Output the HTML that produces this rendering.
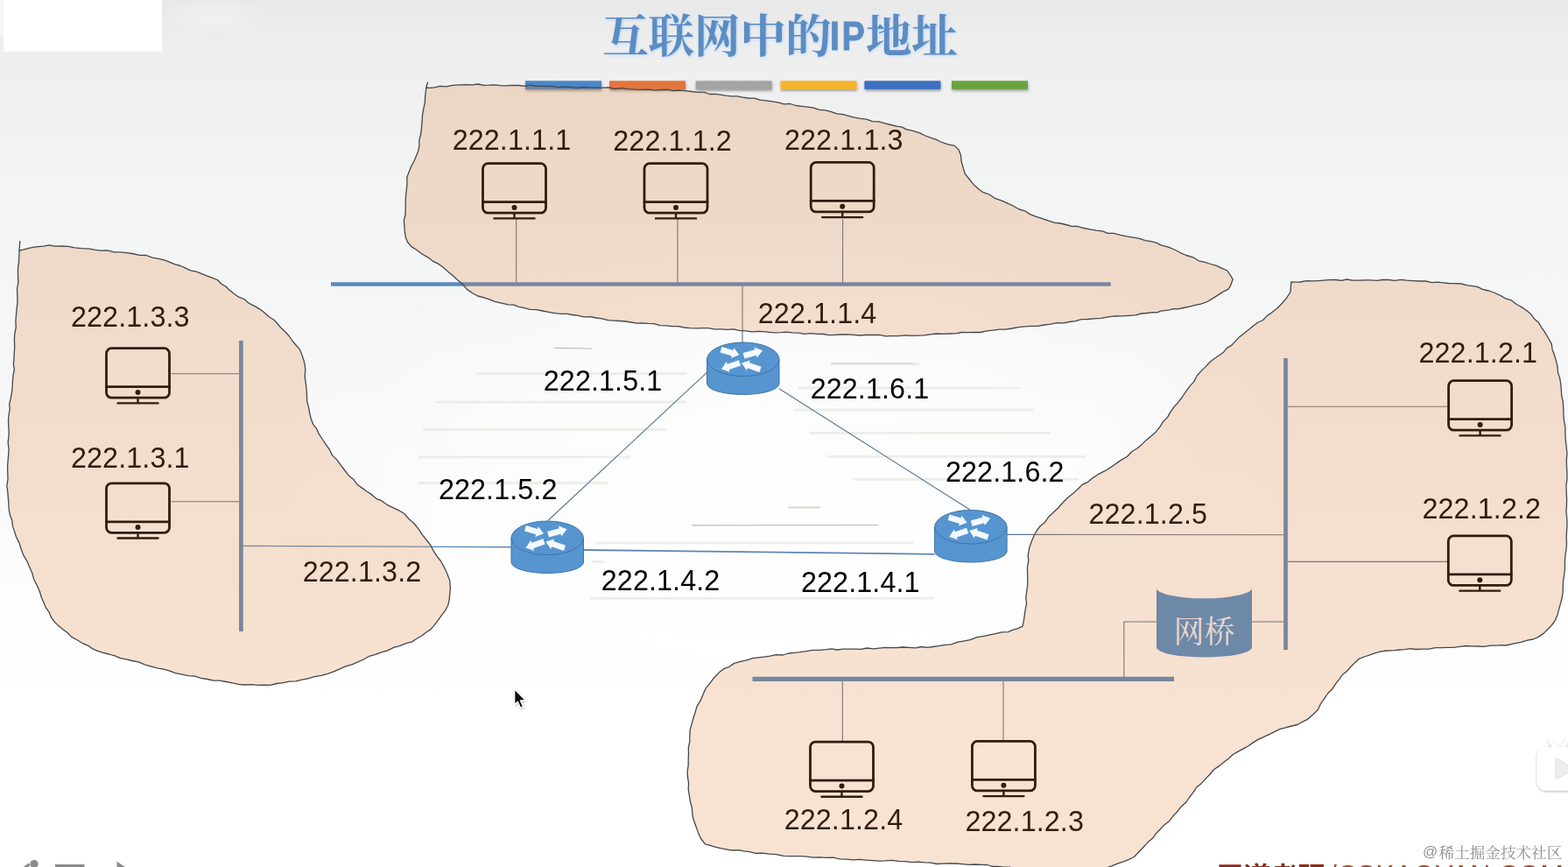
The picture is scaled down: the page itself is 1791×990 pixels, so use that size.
<!DOCTYPE html>
<html lang="zh">
<head>
<meta charset="utf-8">
<title>互联网中的IP地址</title>
<style>
html,body{margin:0;padding:0;width:1791px;height:990px;overflow:hidden;}
#page{position:absolute;left:0;top:0;width:1791px;height:990px;overflow:hidden;}
body{width:1791px;height:990px;overflow:hidden;position:relative;font-family:"Liberation Sans",sans-serif;background:#fff;}
#bg{position:absolute;left:0;top:0;width:1791px;height:990px;
 background:
  radial-gradient(ellipse 620px 330px at 50% 58%, rgba(255,255,255,0.85) 0%, rgba(255,255,255,0.55) 50%, rgba(255,255,255,0) 100%),
  linear-gradient(180deg,#e8e8e8 0px,#ebebeb 20px,#eeeeee 60px,#f0f0f0 110px,#f2f3f3 200px,#f4f5f5 290px,#f6f6f7 380px,#f8f8f9 480px,#fbfbfb 620px,#fefefe 760px,#ffffff 850px);}
svg{position:absolute;left:0;top:0;}
#labels{position:absolute;left:0;top:0;width:1791px;height:990px;will-change:transform;transform:translateZ(0);}
.ip{position:absolute;font-size:32.3px;line-height:1;color:#000;white-space:nowrap;letter-spacing:0.1px;}
#logo{position:absolute;left:4px;top:0;width:181.2px;height:58.6px;background:#fff;}
#ghost{position:absolute;left:190px;top:2px;width:110px;height:40px;background:radial-gradient(ellipse 60px 24px at 50% 40%,rgba(255,255,255,0.3),rgba(255,255,255,0.12) 70%,rgba(255,255,255,0));}
#sliver{position:absolute;left:0;top:0;width:4px;height:40px;background:#f6f6f6;}
#ttl-ip{position:absolute;left:947.6px;top:18.9px;font-size:45.8px;letter-spacing:3.1px;-webkit-text-stroke:0.8px #5c8cc2;line-height:1;font-weight:bold;color:#5c8cc2;transform:scaleX(0.86);transform-origin:0 0;white-space:nowrap;text-shadow:0 0 3px rgba(190,220,250,0.9);}
#wm-at{position:absolute;left:1625px;top:963.5px;font-size:17px;line-height:1;color:#8e8e8e;text-shadow:0 0 1px #fff,0 0 1px #fff;}
#foot-en{position:absolute;left:1518px;top:982.7px;font-size:32px;line-height:1;color:#a04a3c;white-space:nowrap;}
</style>
</head>
<body>
<div id="page">
<div id="bg"></div>
<div id="logo"></div>
<div id="ghost"></div>
<div id="sliver"></div>
<svg width="1791" height="990" viewBox="0 0 1791 990">
<defs>
<filter id="bsh" x="-5%" y="-50%" width="110%" height="250%"><feDropShadow dx="0.5" dy="2" stdDeviation="1.6" flood-color="#000" flood-opacity="0.35"/></filter>
<filter id="tsh" x="-5%" y="-20%" width="110%" height="140%"><feDropShadow dx="0.8" dy="0.8" stdDeviation="1.6" flood-color="#a9d2fb" flood-opacity="0.95"/></filter>
<filter id="psh" x="-20%" y="-20%" width="140%" height="150%"><feDropShadow dx="0" dy="1" stdDeviation="1.6" flood-color="#000" flood-opacity="0.3"/></filter>
<filter id="csh" x="-40%" y="-30%" width="200%" height="170%"><feDropShadow dx="0.6" dy="1" stdDeviation="0.9" flood-color="#000" flood-opacity="0.3"/></filter>
<filter id="sbl" x="-2%" y="-2%" width="104%" height="104%" filterUnits="userSpaceOnUse"><feGaussianBlur stdDeviation="0.7"/></filter>
</defs>
<g stroke="#e8e8e3" stroke-width="2.8" fill="none" opacity="0.75" filter="url(#sbl)">
<path d="M545.0 426.7 H784.0"/>
<path d="M497.0 459.2 H784.0"/>
<path d="M483.0 490.3 H761.0"/>
<path d="M478.0 521.8 H720.0"/>
<path d="M477.0 551.5 H694.0"/>
<path d="M949.0 415.5 H1050.0"/>
<path d="M912.0 442.9 H1165.0"/>
<path d="M908.0 468.0 H1180.0"/>
<path d="M924.0 494.5 H1200.0"/>
<path d="M945.0 521.3 H1240.0"/>
<path d="M974.0 547.4 H1232.0"/>
<path d="M900.0 579.6 H937.0"/>
<path d="M681.0 619.8 H1043.0"/>
<path d="M676.0 641.4 H690.0"/>
<path d="M674.0 683.2 H1066.0"/>
</g>
<g stroke="#b9bcbc" stroke-width="1.2" fill="none"><path d="M632.5 397.3 L676 398"/><path d="M790 599.8 L1003 599.5"/><path d="M949 414.8 H1043" stroke="#d2d4d4"/><path d="M900.5 579.3 H937" stroke="#d2d4d4"/></g>
<g stroke="#588abe" stroke-width="4.7" fill="none">
<path d="M378 324.5 H1268.7"/>
<path d="M275.4 389 V721"/>
<path d="M1468.5 409 V742"/>
<path d="M859.5 775.4 H1341" stroke-width="5.2"/>
</g>
<g stroke="#5a748f" stroke-width="1.1" fill="none">
<path d="M589.7 250 V322.5"/>
<path d="M774.0 250 V322.5"/>
<path d="M962.6 250 V322.5"/>
<path d="M848 326.5 V391"/>
<path d="M195.5 426.8 H273"/><path d="M195.5 572.7 H273"/>
<path d="M278 623.4 L584 624.7" stroke="#5d86b4" stroke-width="1.4"/>
<path d="M807.4 425.3 L625.8 594.5"/>
<path d="M889.8 443.8 L1107.8 582"/>
<path d="M666 628 L1067.6 632.8" stroke="#5d86b4" stroke-width="1.8"/>
<path d="M1150 610.4 L1466 610.8"/>
<path d="M1471 464.2 H1653"/><path d="M1471 641.4 H1653"/>
<path d="M1430 710 H1466"/><path d="M1321 710 H1283.8 V774"/>
<path d="M962.3 778 V846"/><path d="M1146 778 V846"/>
</g>
<path d="M1321 671.6 A54.5 11.7 0 0 0 1430 671.6 V739 A54.5 11.5 0 0 1 1321 739 Z" fill="#4e8bca"/>
<text x="1340.5" y="733.5" font-size="35" fill="#eef3fb" font-family="'Liberation Serif','Noto Serif CJK SC',serif">网桥</text>
<path d="M807.5 410.3 V438.0 A41.2 12.5 0 0 0 890.0 438.0 V410.3 Z" fill="#5795d0" stroke="#3f72a6" stroke-width="1"/>
<ellipse cx="848.8" cy="410.3" rx="41.2" ry="19.3" fill="#5795d0" stroke="#3f72a6" stroke-width="1"/>
<g fill="#f4f9ff">
<polygon points="822.6,402.5 835.7,406.2 834.9,408.9 844.5,405.3 838.3,397.2 837.5,399.9 824.4,396.1"/>
<polygon points="850.4,409.5 864.0,405.7 864.7,408.4 871.0,400.3 861.5,396.6 862.2,399.3 848.6,403.1"/>
<polygon points="843.9,411.2 830.7,415.8 829.7,413.1 824.0,421.6 833.7,424.7 832.8,422.0 846.1,417.4"/>
<polygon points="869.5,418.7 855.8,414.1 856.7,411.4 847.0,414.6 852.8,423.0 853.7,420.3 867.5,424.9"/>
</g>
<path d="M584.0 614.3 V642.0 A41.2 12.5 0 0 0 666.5 642.0 V614.3 Z" fill="#5795d0" stroke="#3f72a6" stroke-width="1"/>
<ellipse cx="625.2" cy="614.3" rx="41.2" ry="19.3" fill="#5795d0" stroke="#3f72a6" stroke-width="1"/>
<g fill="#f4f9ff">
<polygon points="599.1,606.5 612.2,610.2 611.4,612.9 621.0,609.3 614.8,601.2 614.0,603.9 600.9,600.1"/>
<polygon points="626.9,613.5 640.5,609.7 641.2,612.4 647.5,604.3 638.0,600.6 638.7,603.3 625.1,607.1"/>
<polygon points="620.4,615.2 607.2,619.8 606.2,617.1 600.5,625.6 610.2,628.7 609.3,626.0 622.6,621.4"/>
<polygon points="646.0,622.7 632.3,618.1 633.2,615.4 623.5,618.6 629.3,627.0 630.2,624.3 644.0,628.9"/>
</g>
<path d="M1067.6 601.8 V629.5 A41.2 12.5 0 0 0 1150.1 629.5 V601.8 Z" fill="#5795d0" stroke="#3f72a6" stroke-width="1"/>
<ellipse cx="1108.8" cy="601.8" rx="41.2" ry="19.3" fill="#5795d0" stroke="#3f72a6" stroke-width="1"/>
<g fill="#f4f9ff">
<polygon points="1082.7,594.0 1095.8,597.7 1095.0,600.4 1104.6,596.8 1098.4,588.7 1097.6,591.4 1084.5,587.6"/>
<polygon points="1110.5,601.0 1124.1,597.2 1124.8,599.9 1131.1,591.8 1121.6,588.1 1122.3,590.8 1108.7,594.6"/>
<polygon points="1104.0,602.7 1090.8,607.3 1089.8,604.6 1084.1,613.1 1093.8,616.2 1092.9,613.5 1106.2,608.9"/>
<polygon points="1129.6,610.2 1115.9,605.6 1116.8,602.9 1107.1,606.1 1112.9,614.5 1113.8,611.8 1127.6,616.4"/>
</g>
<g fill="none" stroke="#000" stroke-width="2.8" stroke-linecap="round">
<rect x="551.5" y="186.7" width="72.0" height="56.5" rx="6" ry="6"/>
<path d="M551.5 230.7 H623.5"/>
<path d="M587.5 243.2 V248.7 M564.5 249.4 H610.5" stroke-width="2.4"/>
<circle cx="587.5" cy="237.0" r="3" fill="#000" stroke="none"/>
<rect x="736.0" y="186.7" width="72.0" height="56.5" rx="6" ry="6"/>
<path d="M736.0 230.7 H808.0"/>
<path d="M772.0 243.2 V248.7 M749.0 249.4 H795.0" stroke-width="2.4"/>
<circle cx="772.0" cy="237.0" r="3" fill="#000" stroke="none"/>
<rect x="926.2" y="185.4" width="72.0" height="56.5" rx="6" ry="6"/>
<path d="M926.2 229.4 H998.2"/>
<path d="M962.2 241.9 V247.4 M939.2 248.1 H985.2" stroke-width="2.4"/>
<circle cx="962.2" cy="235.7" r="3" fill="#000" stroke="none"/>
<rect x="121.5" y="397.7" width="72.0" height="56.5" rx="6" ry="6"/>
<path d="M121.5 441.7 H193.5"/>
<path d="M157.5 454.2 V459.7 M134.5 460.4 H180.5" stroke-width="2.4"/>
<circle cx="157.5" cy="448.0" r="3" fill="#000" stroke="none"/>
<rect x="121.5" y="551.8" width="72.0" height="56.5" rx="6" ry="6"/>
<path d="M121.5 595.8 H193.5"/>
<path d="M157.5 608.3 V613.8 M134.5 614.5 H180.5" stroke-width="2.4"/>
<circle cx="157.5" cy="602.1" r="3" fill="#000" stroke="none"/>
<rect x="1654.6" y="434.7" width="72.0" height="56.5" rx="6" ry="6"/>
<path d="M1654.6 478.7 H1726.6"/>
<path d="M1690.6 491.2 V496.7 M1667.6 497.4 H1713.6" stroke-width="2.4"/>
<circle cx="1690.6" cy="485.0" r="3" fill="#000" stroke="none"/>
<rect x="1654.3" y="611.9" width="72.0" height="56.5" rx="6" ry="6"/>
<path d="M1654.3 655.9 H1726.3"/>
<path d="M1690.3 668.4 V673.9 M1667.3 674.6 H1713.3" stroke-width="2.4"/>
<circle cx="1690.3" cy="662.2" r="3" fill="#000" stroke="none"/>
<rect x="925.5" y="847.1" width="72.0" height="56.5" rx="6" ry="6"/>
<path d="M925.5 891.1 H997.5"/>
<path d="M961.5 903.6 V909.1 M938.5 909.8 H984.5" stroke-width="2.4"/>
<circle cx="961.5" cy="897.4" r="3" fill="#000" stroke="none"/>
<rect x="1110.4" y="846.4" width="72.0" height="56.5" rx="6" ry="6"/>
<path d="M1110.4 890.4 H1182.4"/>
<path d="M1146.4 902.9 V908.4 M1123.4 909.1 H1169.4" stroke-width="2.4"/>
<circle cx="1146.4" cy="896.7" r="3" fill="#000" stroke="none"/>
</g>
<g filter="url(#bsh)">
<rect x="600.0" y="92.3" width="87" height="9.6" fill="#4a86c8"/>
<rect x="696.0" y="92.3" width="87" height="9.6" fill="#e2743a"/>
<rect x="794.6" y="92.3" width="87" height="9.6" fill="#a3a3a3"/>
<rect x="891.5" y="92.3" width="87" height="9.6" fill="#f6b42d"/>
<rect x="987.4" y="92.3" width="87" height="9.6" fill="#3d6fbe"/>
<rect x="1087.0" y="92.3" width="87" height="9.6" fill="#6aa33e"/>
</g>
</svg>
<div id="labels">
<div class="ip" style="left:516.7px;top:144.1px">222.1.1.1</div>
<div class="ip" style="left:700.3px;top:145.1px">222.1.1.2</div>
<div class="ip" style="left:896.0px;top:144.1px">222.1.1.3</div>
<div class="ip" style="left:865.8px;top:341.9px">222.1.1.4</div>
<div class="ip" style="left:81.0px;top:346.1px">222.1.3.3</div>
<div class="ip" style="left:81.0px;top:506.8px">222.1.3.1</div>
<div class="ip" style="left:345.7px;top:637.1px">222.1.3.2</div>
<div class="ip" style="left:620.8px;top:418.5px">222.1.5.1</div>
<div class="ip" style="left:925.7px;top:427.6px">222.1.6.1</div>
<div class="ip" style="left:500.9px;top:543.1px">222.1.5.2</div>
<div class="ip" style="left:1080.0px;top:522.8px">222.1.6.2</div>
<div class="ip" style="left:1243.5px;top:570.8px">222.1.2.5</div>
<div class="ip" style="left:686.8px;top:647.3px">222.1.4.2</div>
<div class="ip" style="left:915.0px;top:648.6px">222.1.4.1</div>
<div class="ip" style="left:1620.5px;top:387.0px">222.1.2.1</div>
<div class="ip" style="left:1624.5px;top:564.6px">222.1.2.2</div>
<div class="ip" style="left:895.7px;top:920.1px">222.1.2.4</div>
<div class="ip" style="left:1102.4px;top:921.7px">222.1.2.3</div>
</div>
<svg width="1791" height="990" viewBox="0 0 1791 990">
<path d="M486.8 100.0L490.9 100.4L496.2 99.8L502.5 98.3L509.7 98.8L517.2 97.3L524.9 96.9L532.6 96.7L540.0 96.9L546.2 96.0L552.3 97.3L558.5 97.2L564.7 96.9L571.0 97.7L577.7 97.8L584.7 97.4L592.1 97.5L600.0 98.3L605.9 97.1L611.9 98.3L618.3 98.3L624.8 98.5L631.5 98.7L638.4 99.9L645.4 99.1L652.4 99.7L659.5 100.3L666.7 99.5L673.9 99.9L681.0 100.2L688.0 100.1L695.2 99.9L702.5 101.5L710.0 100.6L717.6 101.6L725.2 102.2L732.9 102.3L740.5 102.1L748.0 103.1L755.4 102.5L762.5 102.4L769.3 103.5L775.9 103.0L782.0 103.6L790.1 104.5L797.5 105.4L804.3 105.4L810.5 107.5L816.7 107.4L822.7 108.1L828.8 109.1L835.2 109.9L842.1 109.8L848.4 111.2L855.0 112.0L861.7 112.1L868.3 114.1L875.0 114.9L881.9 115.8L888.7 116.9L895.3 118.8L902.3 118.5L908.9 120.5L915.7 121.3L922.5 122.1L929.3 123.1L935.9 125.3L942.8 125.8L949.4 127.6L955.9 129.8L962.8 130.6L969.3 132.4L975.9 134.2L982.7 135.4L989.7 136.1L996.5 138.7L1003.8 138.9L1010.7 140.8L1017.4 142.5L1023.9 144.2L1030.2 145.1L1035.6 147.9L1040.9 148.9L1049.9 151.6L1057.0 155.0L1063.4 157.4L1069.3 159.4L1074.5 162.0L1082.9 164.9L1090.2 166.4L1095.0 171.0L1097.4 177.0L1098.1 184.3L1100.3 191.9L1102.2 198.3L1106.7 204.0L1111.5 210.1L1117.8 216.0L1123.1 219.7L1129.9 222.0L1136.1 226.3L1143.5 228.9L1150.9 232.1L1158.1 235.5L1164.0 239.0L1170.6 240.8L1176.4 244.6L1182.9 247.2L1189.9 249.3L1197.1 251.9L1204.9 254.4L1211.1 255.0L1217.4 256.5L1224.0 258.3L1231.1 258.5L1238.1 260.5L1245.2 261.9L1252.2 263.1L1259.1 263.9L1265.5 266.4L1272.0 266.3L1279.5 268.3L1287.0 269.9L1294.3 271.1L1301.5 272.3L1308.1 274.7L1314.7 275.7L1320.7 277.2L1325.8 279.8L1335.2 282.4L1342.5 285.5L1348.7 288.8L1354.8 291.5L1362.9 293.8L1369.2 297.8L1376.1 299.4L1382.9 301.5L1389.5 303.4L1394.9 305.9L1401.8 309.0L1405.1 313.8L1408.2 319.0L1405.2 326.9L1402.8 330.4L1396.6 333.4L1391.8 336.6L1385.7 340.4L1379.0 344.5L1371.6 347.1L1365.3 348.4L1358.5 350.1L1351.7 351.5L1345.4 352.8L1339.9 352.7L1336.2 353.9L1325.9 355.1L1321.6 356.8L1316.2 356.6L1310.3 357.5L1303.8 358.0L1296.9 359.8L1289.5 360.3L1281.7 360.8L1273.8 361.0L1265.8 361.9L1257.8 363.3L1249.8 363.8L1242.0 364.5L1235.2 364.6L1228.5 366.6L1221.6 367.5L1214.6 368.9L1207.3 368.7L1200.1 370.2L1192.8 371.0L1185.5 372.4L1178.0 372.4L1170.6 372.8L1163.3 373.7L1156.0 375.0L1148.7 376.1L1141.5 376.1L1134.3 377.1L1127.1 377.8L1120.1 379.5L1112.8 379.3L1105.6 379.7L1098.4 379.5L1091.3 380.8L1084.1 381.0L1076.9 381.3L1069.7 381.0L1062.5 381.8L1055.4 382.9L1048.2 383.2L1041.0 383.4L1033.8 382.8L1026.5 383.7L1019.1 383.6L1011.7 383.8L1004.3 382.4L997.0 382.5L989.6 382.4L982.2 383.0L975.0 382.4L967.9 381.9L960.8 382.0L953.9 382.3L947.1 382.7L940.5 381.5L933.0 381.3L925.8 380.6L918.8 381.3L912.0 380.2L905.2 379.9L898.6 379.1L892.0 379.7L885.5 379.8L878.9 379.3L872.3 378.7L865.6 378.3L858.8 378.9L851.8 377.9L844.8 377.4L837.7 375.9L830.4 376.4L823.2 375.9L816.0 375.8L808.9 374.7L801.8 374.6L794.8 374.8L788.0 374.7L781.4 374.0L775.0 372.7L767.6 372.6L760.5 371.8L753.6 371.6L747.1 369.7L740.5 369.4L734.0 368.8L727.5 369.1L721.1 368.0L714.6 367.0L708.0 366.5L701.2 366.1L694.4 365.7L687.7 363.8L680.9 363.0L674.2 361.7L667.3 361.9L660.7 360.3L654.0 359.5L647.5 358.3L641.0 358.3L633.8 357.7L626.7 356.3L619.6 355.0L612.7 353.6L605.6 353.4L599.1 351.6L592.7 350.3L586.7 348.2L580.7 347.9L572.6 346.1L565.1 344.3L558.4 341.7L552.0 339.6L545.7 338.0L540.2 335.0L533.3 330.4L528.4 324.5L522.7 319.7L517.0 314.5L511.8 310.3L506.5 305.6L500.9 301.4L494.7 298.4L489.9 294.6L482.1 290.0L475.7 285.2L469.6 281.4L465.6 276.5L463.3 271.0L462.3 263.9L462.0 258.4L461.3 251.9L463.0 245.0L463.2 237.8L463.3 230.8L463.5 223.8L464.3 216.6L465.1 209.5L464.7 202.7L466.9 197.0L469.7 189.9L472.8 184.3L475.5 178.0L477.6 172.7L478.9 167.0L478.8 160.4L480.7 153.0L481.4 146.6L482.0 139.0L482.6 130.8L484.0 123.2L485.4 116.7L485.5 112.0Z" fill="rgba(225,125,51,0.225)" stroke="#43484d" stroke-width="1.3" stroke-linejoin="round"/>
<path d="M488.6 93.7 L486.8 100.0" fill="none" stroke="#43484d" stroke-width="1.3"/>
<path d="M22.0 286.0L26.6 285.1L32.9 283.3L40.8 281.8L50.0 281.1L56.1 279.8L62.8 281.2L70.1 281.0L77.7 281.4L85.4 282.8L93.1 283.6L100.5 283.9L107.8 285.2L115.2 286.2L122.8 285.9L130.1 287.8L137.4 287.9L144.4 288.6L150.9 289.5L159.1 291.4L167.0 291.5L173.9 294.1L180.8 295.4L187.6 296.9L193.9 299.3L199.9 301.9L206.1 303.5L211.9 306.2L217.7 308.9L224.3 310.1L230.5 312.7L236.7 315.1L242.7 317.3L248.3 319.5L252.9 324.2L257.8 327.0L262.1 331.2L267.8 335.7L272.6 339.2L279.0 341.7L284.6 346.4L291.0 349.6L296.9 353.1L301.7 356.7L307.3 361.8L312.9 365.2L317.0 369.8L321.1 374.5L326.0 379.0L330.5 384.0L334.1 389.5L338.0 394.0L342.3 398.9L344.5 404.1L346.8 410.8L348.2 416.3L348.8 422.8L348.2 429.9L349.2 437.1L350.0 444.0L350.5 450.9L350.6 458.0L352.5 464.9L353.7 471.6L355.1 477.8L357.6 484.4L361.7 489.7L364.5 495.9L368.5 502.0L372.1 507.4L376.2 513.0L379.4 519.6L384.5 524.6L388.5 530.1L393.3 536.5L398.0 542.7L403.9 547.6L408.6 553.8L413.9 557.4L419.2 561.2L424.7 564.9L429.7 569.3L435.7 571.7L442.0 576.3L448.9 579.7L455.7 582.8L462.1 586.8L467.3 592.7L473.3 598.0L478.2 604.3L482.4 610.7L487.1 616.5L491.7 622.3L494.9 628.7L498.6 634.3L503.7 641.0L507.5 647.9L510.4 654.2L513.6 662.5L514.4 671.0L513.8 677.3L513.3 684.0L511.7 691.3L508.6 697.1L504.2 702.9L499.9 708.9L495.7 714.4L491.7 718.9L486.8 722.0L482.0 725.7L475.6 729.5L470.5 732.9L463.8 734.6L457.0 737.3L449.6 739.4L442.7 742.9L435.5 744.8L428.8 747.4L421.7 749.3L415.4 753.0L408.7 755.9L402.0 758.9L394.8 760.9L388.0 763.8L381.2 766.8L374.3 769.4L366.9 771.3L359.3 772.6L351.8 774.8L345.0 776.2L338.0 777.9L330.6 778.1L323.4 779.6L316.0 780.5L308.8 782.4L301.5 782.2L294.3 782.3L287.1 781.7L279.8 782.0L272.6 781.3L265.4 779.8L258.3 778.5L251.1 777.2L243.8 777.1L236.7 775.5L229.5 774.3L222.6 772.2L215.2 771.7L208.0 770.2L200.8 768.7L193.9 766.2L186.8 764.2L179.4 762.9L172.3 760.8L165.2 758.8L158.3 755.8L150.9 754.5L144.4 752.8L137.7 751.6L131.2 748.9L124.6 747.0L118.0 745.3L111.7 743.3L105.8 740.9L100.8 737.3L93.9 734.3L87.7 730.5L81.5 727.1L76.7 722.3L71.7 718.4L66.8 714.6L62.1 709.9L58.5 705.0L56.3 699.4L52.6 694.2L49.8 687.8L47.2 681.8L45.2 675.0L42.2 668.3L38.7 661.5L36.7 654.2L33.7 647.4L30.8 640.6L26.8 634.1L24.2 627.0L21.9 619.9L18.7 613.5L16.6 607.1L14.4 600.4L13.8 594.2L11.6 588.6L10.2 582.1L9.8 573.8L9.3 568.1L8.8 561.7L7.8 554.7L9.0 547.4L8.8 539.9L8.6 532.6L9.1 525.6L9.7 519.2L10.1 513.5L9.1 504.8L10.1 497.5L10.1 491.1L9.7 485.3L9.5 480.0L10.1 473.1L11.2 467.9L10.7 460.9L12.1 455.7L13.1 450.3L14.0 444.0L14.3 436.6L15.2 427.5L16.4 422.2L15.4 416.1L15.9 409.7L16.3 402.8L16.7 395.7L16.4 388.4L16.7 381.1L18.3 374.0L17.9 367.1L18.4 360.5L19.0 353.2L20.0 345.5L19.8 337.6L19.5 329.8L20.9 322.4L20.5 315.4L20.5 309.2L20.6 304.0L21.5 300.0Z" fill="rgba(225,125,51,0.225)" stroke="#43484d" stroke-width="1.3" stroke-linejoin="round"/>
<path d="M22.8 275.0 L22.0 286.0" fill="none" stroke="#43484d" stroke-width="1.3"/>
<path d="M1474.8 321.8L1479.3 322.2L1485.3 322.0L1492.3 320.7L1500.3 320.8L1508.7 320.3L1517.4 319.6L1526.0 319.5L1532.1 320.3L1538.4 319.0L1544.9 320.2L1551.7 320.1L1558.5 319.9L1565.4 319.8L1572.4 320.4L1579.4 319.5L1586.2 319.5L1593.0 320.3L1599.9 319.4L1606.9 320.1L1614.2 320.6L1621.4 321.0L1628.6 321.0L1635.6 322.7L1642.4 322.1L1648.7 322.8L1654.6 323.5L1660.0 323.6L1669.0 324.0L1676.1 325.8L1682.3 326.7L1688.0 327.6L1693.4 330.3L1700.7 332.0L1707.4 334.5L1713.6 337.4L1719.6 340.8L1726.5 342.9L1732.2 347.5L1738.4 350.9L1744.0 354.8L1749.0 359.0L1752.7 364.3L1757.5 368.4L1760.6 373.6L1764.7 379.7L1768.3 385.7L1772.3 392.9L1773.0 398.7L1775.1 404.5L1777.1 410.9L1778.9 417.9L1779.6 425.8L1781.6 431.6L1782.7 438.0L1783.3 444.9L1783.7 452.0L1785.4 459.0L1785.7 466.3L1785.9 473.6L1786.5 480.7L1787.9 487.7L1787.8 494.9L1788.2 502.2L1789.1 509.7L1789.9 517.5L1789.3 525.7L1789.5 532.5L1789.9 539.8L1789.9 547.3L1788.9 555.0L1789.2 562.8L1789.6 570.4L1789.4 577.7L1788.9 584.6L1789.7 591.0L1790.0 599.5L1789.5 607.0L1789.1 613.8L1789.5 620.5L1789.0 627.1L1787.9 634.0L1787.4 641.4L1787.5 649.0L1786.6 656.7L1785.5 664.1L1785.3 671.3L1785.0 677.9L1783.2 686.6L1781.0 694.4L1779.1 701.7L1776.4 708.3L1772.3 714.0L1767.7 718.7L1763.0 723.4L1757.0 727.4L1751.1 730.0L1744.4 731.2L1737.3 733.3L1729.2 734.8L1720.1 737.0L1714.4 736.7L1708.4 737.2L1701.9 737.1L1695.3 738.3L1688.4 738.0L1681.4 737.8L1674.2 737.5L1667.1 738.3L1660.0 739.3L1653.4 739.4L1646.5 739.7L1639.3 739.6L1632.1 741.1L1624.9 741.1L1617.8 741.5L1610.8 740.6L1604.4 741.6L1598.4 742.0L1593.0 742.7L1583.8 743.0L1576.3 744.1L1570.1 745.9L1564.7 747.8L1559.7 749.5L1552.6 752.1L1547.9 756.4L1543.0 761.2L1538.9 765.9L1533.6 770.2L1529.6 775.8L1525.7 780.7L1521.8 786.8L1516.9 791.5L1512.5 797.8L1508.6 803.5L1505.3 810.5L1499.4 816.2L1492.6 821.9L1487.4 824.3L1481.9 827.5L1475.3 829.0L1468.5 830.9L1461.6 832.6L1455.2 835.9L1449.1 838.8L1443.1 841.7L1437.1 844.4L1431.4 847.9L1426.0 851.7L1420.2 854.9L1414.3 858.1L1408.4 861.5L1403.3 866.2L1397.6 870.4L1392.1 874.9L1386.2 879.0L1381.7 884.5L1376.8 889.4L1372.4 894.4L1366.7 899.1L1362.7 905.1L1358.5 910.5L1354.6 916.3L1349.2 921.0L1344.7 926.8L1340.1 931.6L1335.7 937.4L1329.8 941.9L1324.9 947.3L1320.0 952.3L1316.2 957.6L1311.8 961.1L1305.2 968.2L1300.4 973.3L1295.4 978.5L1289.7 981.3L1283.8 983.7L1277.2 985.9L1269.9 988.8L1264.4 990.8L1258.1 991.8L1251.5 993.1L1244.6 994.3L1237.5 996.3L1230.0 996.4L1223.3 996.7L1216.0 995.7L1208.5 996.4L1200.9 996.0L1193.5 995.9L1186.5 994.7L1180.1 994.5L1172.5 994.3L1166.1 993.5L1160.1 992.3L1153.6 990.2L1145.0 989.9L1139.4 989.3L1133.5 989.3L1127.5 987.5L1120.9 987.3L1114.1 987.0L1106.8 987.4L1099.2 986.7L1091.2 986.0L1082.7 985.9L1076.5 986.1L1070.0 986.5L1063.2 985.2L1056.2 984.9L1049.0 984.1L1041.6 984.7L1034.1 983.7L1026.5 983.3L1018.9 982.4L1011.3 982.9L1003.7 983.1L996.3 982.7L989.0 982.2L981.7 981.4L974.2 981.9L966.7 981.2L959.0 980.8L951.5 979.2L943.8 979.3L936.3 978.9L928.9 979.1L921.6 978.1L914.6 977.6L907.7 977.7L901.2 977.7L894.9 977.4L886.5 975.7L878.3 975.2L870.5 974.2L863.0 974.3L856.1 972.6L849.6 971.8L843.5 970.7L837.7 971.0L832.4 970.4L822.9 968.6L815.9 966.9L810.5 965.2L805.4 963.8L800.2 957.0L797.2 949.9L794.8 943.3L791.7 934.5L790.8 928.9L790.4 922.3L788.4 915.3L787.3 908.0L786.2 901.1L786.6 894.3L785.5 887.6L785.1 880.9L786.2 874.2L786.2 867.5L786.5 860.7L786.3 853.8L787.8 847.0L787.9 840.3L788.1 833.9L790.1 826.8L791.9 820.0L794.1 813.5L796.0 806.6L800.0 800.2L803.0 793.1L806.0 786.2L810.5 780.7L815.4 774.2L820.6 768.6L826.9 763.6L833.0 761.3L838.7 757.4L845.8 755.4L853.8 753.7L859.5 751.6L865.8 750.8L872.5 750.1L879.4 749.1L886.5 747.6L894.1 748.0L900.5 746.0L907.1 745.4L913.9 744.7L920.9 743.6L928.1 742.3L935.9 742.4L944.0 741.7L950.0 740.8L956.3 742.0L962.9 741.1L969.6 741.2L976.4 741.2L983.4 741.4L990.4 740.0L997.3 740.9L1004.2 740.1L1011.0 739.3L1017.8 739.6L1024.7 739.5L1031.6 739.0L1038.6 739.3L1045.6 739.9L1052.4 738.5L1059.2 739.3L1065.7 738.5L1072.0 737.6L1078.0 736.6L1086.3 735.9L1093.9 733.2L1101.6 731.8L1109.0 730.4L1115.6 727.7L1122.4 726.7L1128.6 725.4L1136.8 723.7L1144.3 721.9L1151.4 721.7L1157.1 719.2L1161.9 717.8L1168.0 715.1L1169.5 707.9L1170.2 702.9L1171.1 696.6L1172.5 689.5L1171.8 681.9L1172.8 674.6L1173.7 668.0L1173.8 660.7L1173.6 653.7L1173.5 646.9L1174.8 640.5L1174.2 634.4L1175.7 625.7L1178.2 618.2L1181.4 611.0L1184.5 605.5L1188.3 600.5L1193.7 596.2L1197.9 589.9L1203.0 585.2L1208.6 580.0L1213.9 574.0L1219.4 568.5L1224.9 563.9L1231.0 558.8L1236.1 553.4L1242.7 550.3L1248.4 545.6L1254.9 541.3L1262.0 537.7L1268.8 533.6L1275.1 529.1L1281.3 524.9L1287.6 521.2L1292.6 515.7L1298.8 512.0L1304.3 507.4L1309.4 502.4L1314.9 497.9L1320.2 493.2L1324.7 487.7L1328.5 481.5L1333.6 476.4L1337.1 470.1L1341.2 464.4L1345.9 459.2L1350.2 453.5L1354.6 447.1L1358.6 441.4L1363.7 435.9L1367.2 429.0L1372.3 423.4L1377.4 418.4L1381.9 413.5L1387.0 409.5L1392.2 406.0L1397.4 402.3L1401.5 397.4L1406.9 394.1L1411.2 389.4L1415.5 384.9L1420.5 381.0L1425.6 377.1L1430.7 372.8L1436.2 368.5L1442.6 365.5L1447.2 360.6L1452.2 357.2L1459.1 351.7L1464.5 346.2L1468.6 341.6L1474.0 333.5Z" fill="rgba(225,125,51,0.225)" stroke="#43484d" stroke-width="1.3" stroke-linejoin="round"/>
<g fill="#5c8cc2" filter="url(#tsh)" aria-label="互联网中的地址" font-family="'Liberation Serif','Noto Serif CJK SC',serif" font-size="52.5" font-weight="bold"><text x="688.3 740.6 793 845.3 897.2" y="60.2">互联网中的</text><text x="989 1041" y="60.2">地址</text></g>
<g fill="#8e8e8e" stroke="#fff" stroke-width="1.06" paint-order="stroke" stroke-linejoin="round"><text x="1643.5" y="980" font-size="17.6" font-family="'Liberation Serif','Noto Serif CJK SC',serif">稀土掘金技术社区</text></g>
<g fill="#8a2b1d" ><text x="1389.6" y="1012" font-size="31" font-weight="bold" font-family="'Liberation Sans','Noto Sans CJK SC',sans-serif">王道考研</text></g>
<path d="M587.7 786.9 V804.6 L591.4 801.2 L594.6 808.4 L597.5 807.1 L594.4 800 L600 799.6 Z" fill="#0a0a0a" stroke="#fff" stroke-width="1.3" stroke-linejoin="round" filter="url(#csh)"/>
<!-- player widget -->
<g filter="url(#psh)">
<path d="M1770.6 845.5 L1776.5 854 M1790 845 L1785 854" stroke="#fff" stroke-width="4.2" stroke-linecap="round" fill="none"/>
<rect x="1755.6" y="853.3" width="60" height="49.5" rx="10.5" fill="#fff"/>
</g>
<path d="M1776.8 868.5 Q1776.8 865.5 1779.6 866.8 L1796 876.6 Q1798 878 1796 879.4 L1779.6 889.2 Q1776.8 890.5 1776.8 887.5 Z" fill="#ededed" stroke="#dfdfdf" stroke-width="0.9"/>
<!-- bottom-left toolbar fragments -->
<g fill="#8b8b8b">
<circle cx="39" cy="986.6" r="4.6"/><path d="M26.8 990 L32.6 985.6 L34.6 988 L32.4 990 Z"/>
<rect x="63" y="987" width="33.5" height="4"/>
<path d="M133.5 983.8 L143 990 H133.5 Z"/>
</g>
</svg>
<div id="ttl-ip">IP</div>
<div id="wm-at">@</div>
<div id="foot-en">/CSKAOYAN.COM</div>
</div>
</body>
</html>
